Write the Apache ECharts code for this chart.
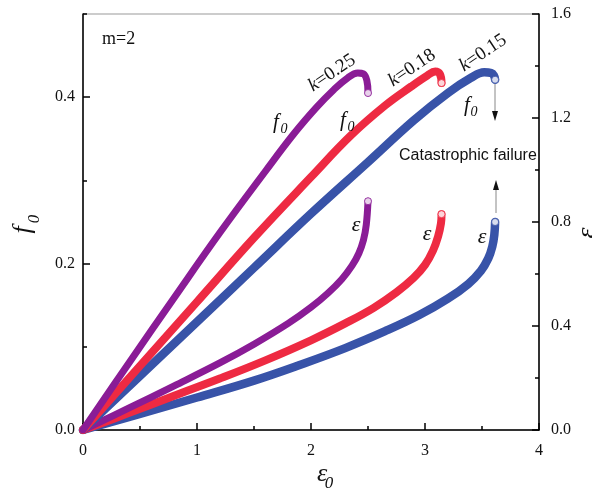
<!DOCTYPE html>
<html>
<head>
<meta charset="utf-8">
<script src="https://cdn.jsdelivr.net/npm/echarts@6/dist/echarts.min.js"></script>
<style>
html, body { margin: 0; padding: 0; background: #fff; }
#chart { width: 592px; height: 495px; }
</style>
</head>
<body>
<div id="chart"></div>
<script>
// f0 - ε0 曲线 (左轴), 每个点 [ε0, f0]
var f0K025 = [[0, 0], [0.4, 0.08], [0.8, 0.159], [1.2, 0.237], [1.6, 0.311], [1.85, 0.356], [2.05, 0.388], [2.2, 0.409], [2.32, 0.423], [2.41, 0.429], [2.46, 0.428], [2.49, 0.42], [2.5, 0.405]];
var f0K018 = [[0, 0], [0.5, 0.077], [1.0, 0.154], [1.5, 0.231], [2.0, 0.304], [2.35, 0.354], [2.65, 0.39], [2.88, 0.413], [3.02, 0.426], [3.09, 0.431], [3.13, 0.428], [3.145, 0.417]];
var f0K015 = [[0, 0], [0.5, 0.065], [1.0, 0.13], [1.5, 0.195], [2.0, 0.26], [2.5, 0.322], [2.9, 0.372], [3.2, 0.405], [3.4, 0.423], [3.52, 0.43], [3.58, 0.429], [3.605, 0.426], [3.615, 0.421]];

// ε - ε0 曲线 (右轴)
var epsK025 = [[0, 0], [0.4, 0.084], [0.8, 0.17], [1.2, 0.258], [1.5, 0.33], [1.8, 0.41], [2.0, 0.472], [2.15, 0.527], [2.27, 0.58], [2.36, 0.632], [2.42, 0.68], [2.46, 0.73], [2.485, 0.79], [2.5, 0.88]];
var epsK018 = [[0, 0], [0.4, 0.065], [0.8, 0.132], [1.2, 0.198], [1.6, 0.268], [2.0, 0.345], [2.3, 0.41], [2.55, 0.47], [2.75, 0.53], [2.9, 0.585], [3.0, 0.635], [3.07, 0.69], [3.115, 0.745], [3.14, 0.795], [3.145, 0.83]];
var epsK015 = [[0, 0], [0.5, 0.062], [1.0, 0.125], [1.5, 0.19], [1.9, 0.25], [2.3, 0.315], [2.65, 0.38], [2.95, 0.442], [3.2, 0.505], [3.38, 0.562], [3.49, 0.612], [3.555, 0.66], [3.59, 0.705], [3.608, 0.75], [3.615, 0.8]];

// 刻度 [min, max, interval]
var xTicks = [0, 4, 1];
var leftTicks = [0, 0.5, 0.2];
var rightTicks = [0, 1.6, 0.4];

var purple = '#8a1c96';
var red = '#ee2a42';
var blue = '#3853a8';
var serif = '"Liberation Serif", "Times New Roman", serif';

var chart = echarts.init(document.getElementById('chart'));

function curve(data, color, width, yIdx) {
  return {
    type: 'line',
    yAxisIndex: yIdx,
    data: data,
    showSymbol: false,
    smooth: 0.4,
    z: 3,
    lineStyle: { color: color, width: width, cap: 'round', join: 'round' }
  };
}

// 曲线末端的空心圆
function ends(list, yIdx) {
  return {
    type: 'scatter',
    yAxisIndex: yIdx,
    symbolSize: 7,
    z: 5,
    data: list.map(function (it) {
      return {
        value: it[0][it[0].length - 1],
        itemStyle: { color: '#fff', borderColor: it[1], borderWidth: 1 }
      };
    })
  };
}

var tickStyle = { color: '#000', width: 1.5 };
var labelStyle = { fontFamily: serif, fontSize: 16, color: '#111' };

function txt(x, y, text, size, italic, rot) {
  return {
    type: 'text', x: x, y: y, rotation: rot || 0, z: 10,
    style: {
      text: text,
      font: (italic ? 'italic ' : '') + size + 'px ' + serif,
      fill: '#111', align: 'center', verticalAlign: 'middle'
    }
  };
}

function kLabel(x, y, val) {
  return {
    type: 'text', x: x, y: y, rotation: 34 * Math.PI / 180, z: 10,
    style: {
      text: '{i|k}=' + val,
      font: '19px ' + serif,
      fill: '#111', align: 'center', verticalAlign: 'middle',
      rich: { i: { fontStyle: 'italic', fontSize: 19, fontFamily: serif, fill: '#111' } }
    }
  };
}

var option = {
  animation: false,
  grid: { left: 83, right: 53, top: 14, bottom: 65, show: true, borderColor: '#999', borderWidth: 1 },
  xAxis: {
    type: 'value', min: xTicks[0], max: xTicks[1], interval: xTicks[2],
    axisLine: { onZero: false, lineStyle: tickStyle },
    axisTick: { inside: true, length: 7, lineStyle: tickStyle },
    minorTick: { show: true, splitNumber: 2, length: 4, lineStyle: tickStyle },
    splitLine: { show: false },
    axisLabel: Object.assign({ margin: 13 }, labelStyle)
  },
  yAxis: [
    {
      type: 'value', position: 'left', min: leftTicks[0], max: leftTicks[1], interval: leftTicks[2],
      axisLine: { show: true, onZero: false, lineStyle: tickStyle },
      axisTick: { inside: true, length: 7, lineStyle: tickStyle },
      splitLine: { show: false },
      axisLabel: Object.assign({
        margin: 8, showMaxLabel: false,
        formatter: function (v) { return v.toFixed(1); }
      }, labelStyle)
    },
    {
      type: 'value', position: 'right', min: rightTicks[0], max: rightTicks[1], interval: rightTicks[2],
      axisLine: { show: true, onZero: false, lineStyle: tickStyle },
      axisTick: { inside: true, length: 7, lineStyle: tickStyle },
      minorTick: { show: true, splitNumber: 2, length: 4, lineStyle: tickStyle },
      splitLine: { show: false },
      axisLabel: Object.assign({
        margin: 12,
        formatter: function (v) { return v.toFixed(1); }
      }, labelStyle)
    },
    {
      // 左轴的小刻度
      type: 'value', position: 'left', min: leftTicks[0], max: leftTicks[1], interval: 0.1,
      axisLine: { show: false },
      axisTick: { inside: true, length: 4, lineStyle: tickStyle },
      splitLine: { show: false },
      axisLabel: { show: false }
    }
  ],
  series: [
    curve(epsK015, blue, 8.5, 1),
    curve(epsK018, red, 8, 1),
    curve(epsK025, purple, 7, 1),
    curve(f0K015, blue, 8.5, 0),
    curve(f0K018, red, 8, 0),
    curve(f0K025, purple, 7, 0),
    ends([[f0K025, purple], [f0K018, red], [f0K015, blue]], 0),
    ends([[epsK025, purple], [epsK018, red], [epsK015, blue]], 1)
  ],
  graphic: [
    { type: 'text', x: 102, y: 39, z: 10, style: { text: 'm=2', font: '18px ' + serif, fill: '#111', verticalAlign: 'middle' } },
    kLabel(332, 73, '0.25'),
    kLabel(412, 68, '0.18'),
    kLabel(483, 53, '0.15'),
    // f0 标签
    txt(276, 122, 'f', 21, true), txt(284, 129, '0', 14, true),
    txt(343, 120, 'f', 21, true), txt(351, 127, '0', 14, true),
    txt(467, 105, 'f', 21, true), txt(474, 112, '0', 14, true),
    // ε 标签
    txt(356, 225, 'ε', 22, true),
    txt(427, 234, 'ε', 22, true),
    txt(482, 237, 'ε', 22, true),
    {
      type: 'text', x: 399, y: 156, z: 10,
      style: { text: 'Catastrophic failure', font: '16px "Liberation Sans", Arial, sans-serif', fill: '#111', verticalAlign: 'middle' }
    },
    // 箭头
    { type: 'line', z: 10, shape: { x1: 495, y1: 84, x2: 495, y2: 113 }, style: { stroke: '#888', lineWidth: 1 } },
    { type: 'polygon', z: 10, shape: { points: [[492, 111], [498, 111], [495, 121]] }, style: { fill: '#111' } },
    { type: 'line', z: 10, shape: { x1: 496, y1: 213, x2: 496, y2: 189 }, style: { stroke: '#888', lineWidth: 1 } },
    { type: 'polygon', z: 10, shape: { points: [[493, 190], [499, 190], [496, 180]] }, style: { fill: '#111' } },
    // 轴标题
    txt(322, 474, 'ε', 26, true), txt(329, 484, '0', 17, true),
    txt(23, 230, 'f', 26, true, Math.PI / 2), txt(35, 219, '0', 17, true, Math.PI / 2),
    txt(588, 233, 'ε', 28, true, Math.PI / 2)
  ]
};

chart.setOption(option);
</script>
</body>
</html>
